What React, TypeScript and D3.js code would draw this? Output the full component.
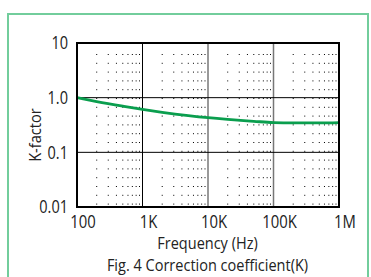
import * as d3 from 'd3';
import React from 'react';

// K-factor vs frequency
const freqs = [100, 200, 500, 1000, 2000, 5000, 10000, 20000, 50000, 100000, 200000, 500000, 1000000];
const kValues = [1.0, 0.85, 0.7, 0.61, 0.54, 0.47, 0.43, 0.4, 0.37, 0.35, 0.345, 0.345, 0.35];

const xTicks = [100, 1000, 10000, 100000, 1000000];
const xTickLabels = ['100', '1K', '10K', '100K', '1M'];
const yTicks = [0.01, 0.1, 1, 10];
const yTickLabels = ['0.01', '0.1', '1.0', '10'];

const FONT = '"Open Sans", sans-serif';

// text squeezed horizontally, the reference font is a condensed face
function CText(props: { x: number; y: number; size: number; sx?: number; anchor?: string; rotate?: number; dy?: string; children: any }) {
    const rot = props.rotate ? ` rotate(${props.rotate})` : '';
    return (
        <text transform={`translate(${props.x},${props.y})${rot} scale(${props.sx || 0.8},1)`}
              textAnchor={props.anchor || 'middle'} dy={props.dy}
              fontFamily={FONT} fontSize={props.size} fill="#222">{props.children}</text>
    );
}

function App() {
    const width = 371;
    const height = 277;
    const left = 77, right = 339, top = 43, bottom = 207;

    const x = d3.scaleLog().domain([100, 1000000]).range([left, right]);
    const y = d3.scaleLog().domain([0.01, 10]).range([bottom, top]);

    // minor positions 2..9 in each decade
    const minorX: number[] = [];
    for (let d = 100; d < 1000000; d *= 10) {
        for (let m = 2; m <= 9; m++) minorX.push(d * m);
    }

    const line = d3.line<number>()
        .x((d, i) => x(freqs[i]))
        .y(d => y(d))
        .curve(d3.curveMonotoneX);

    return (
        <svg width={width} height={height}
             style={{ position: 'absolute', left: 0, top: 0, display: 'block' }}>
            <rect x={0} y={0} width={width} height={height} fill="#fff" />
            {/* green frame */}
            <path d={`M8,${height + 5} V14 H368 V${height + 5}`} fill="none"
                  stroke="#72cd9c" strokeWidth={2} />

            {/* dotted minor grid */}
            {minorX.map((f, i) => (
                <line key={'mx' + i} x1={x(f)} x2={x(f)} y1={top + 11} y2={bottom - 2}
                      stroke="#000" strokeWidth={1} strokeDasharray="1 7.8" />
            ))}

            {/* major grid */}
            {xTicks.slice(1, -1).map((f, i) => (
                <line key={'gx' + i} x1={x(f)} x2={x(f)} y1={top} y2={bottom}
                      stroke={i === 0 ? '#000' : '#777'} strokeWidth={i === 0 ? 1 : 1.5} />
            ))}
            {yTicks.slice(1, -1).map((v, i) => (
                <line key={'gy' + i} x1={left} x2={right} y1={y(v)} y2={y(v)}
                      stroke="#000" strokeWidth={1} />
            ))}

            {/* curve */}
            <path d={line(kValues) || ''} fill="none" stroke="#0a9e4e" strokeWidth={2.8} />

            {/* plot frame */}
            <rect x={left} y={top} width={right - left} height={bottom - top}
                  fill="none" stroke="#000" strokeWidth={2} />

            {/* tick labels */}
            {xTicks.map((f, i) => (
                <CText key={'xt' + i} x={x(f) + 6} y={227.5} size={17.5} sx={0.85}>{xTickLabels[i]}</CText>
            ))}
            {yTicks.map((v, i) => (
                <CText key={'yt' + i} x={68} y={y(v)} dy="0.36em" anchor="end" size={17.5} sx={0.83}>{yTickLabels[i]}</CText>
            ))}

            <CText x={41} y={135} rotate={-90} size={17} sx={0.86}>K-factor</CText>
            <CText x={207.5} y={249} size={16.5} sx={0.88}>Frequency (Hz)</CText>
            <CText x={207.5} y={271} size={16.5} sx={0.88}>Fig. 4 Correction coefficient(K)</CText>
        </svg>
    );
}

export default App;
